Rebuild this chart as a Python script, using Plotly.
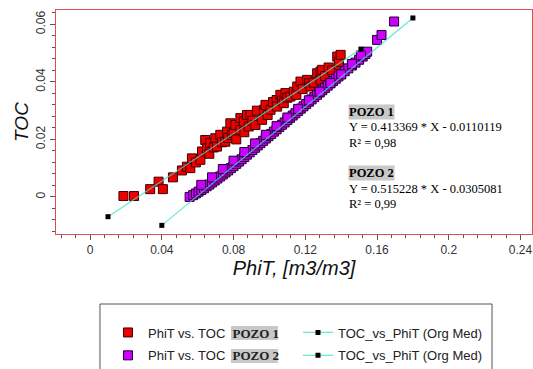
import plotly.graph_objects as go

# --- POZO 1: PhiT vs. TOC samples ---
pozo1_phit = [0.0186, 0.0245, 0.0335, 0.0382, 0.0406, 0.0462, 0.0512, 0.0540, 0.0559, 0.0568,
              0.0590, 0.0615, 0.0624, 0.0642, 0.0652, 0.0665, 0.0670, 0.0690, 0.0698, 0.0708,
              0.0726, 0.0735, 0.0754, 0.0764, 0.0770, 0.0782, 0.0790, 0.0800, 0.0810, 0.0815,
              0.0838, 0.0838, 0.0857, 0.0860, 0.0875, 0.0885, 0.0894, 0.0905, 0.0922, 0.0930,
              0.0959, 0.0970, 0.0978, 0.0990, 0.1006, 0.1020, 0.1040, 0.1043, 0.1061, 0.1070,
              0.1080, 0.1089, 0.1100, 0.1117, 0.1136, 0.1150, 0.1155, 0.1173, 0.1185, 0.1210,
              0.1220, 0.1229, 0.1246, 0.1266, 0.1285, 0.1285, 0.1294, 0.1310, 0.1330, 0.1350,
              0.1378, 0.1387, 0.1387, 0.1397]
pozo1_toc = [0.0003, 0.0003, 0.0027, 0.0053, 0.0027, 0.0068, 0.0092, 0.0105, 0.0100, 0.0134,
             0.0120, 0.0129, 0.0158, 0.0198, 0.0169, 0.0150, 0.0187, 0.0172, 0.0204, 0.0175,
             0.0216, 0.0190, 0.0192, 0.0227, 0.0205, 0.0256, 0.0215, 0.0222, 0.0250, 0.0200,
             0.0233, 0.0274, 0.0262, 0.0225, 0.0285, 0.0245, 0.0285, 0.0265, 0.0250, 0.0300,
             0.0268, 0.0303, 0.0320, 0.0285, 0.0303, 0.0330, 0.0337, 0.0314, 0.0355, 0.0335,
             0.0326, 0.0361, 0.0345, 0.0349, 0.0366, 0.0355, 0.0384, 0.0401, 0.0375, 0.0407,
             0.0395, 0.0384, 0.0397, 0.0430, 0.0407, 0.0436, 0.0442, 0.0420, 0.0450, 0.0440,
             0.0488, 0.0459, 0.0470, 0.0494]

# --- POZO 2: PhiT vs. TOC samples ---
pozo2_phit = [0.0555, 0.0575, 0.0590, 0.0605, 0.0620, 0.0635, 0.0650, 0.0665, 0.0680, 0.0695,
              0.0710, 0.0725, 0.0740, 0.0755, 0.0770, 0.0785, 0.0800, 0.0815, 0.0830, 0.0845,
              0.0860, 0.0875, 0.0890, 0.0905, 0.0920, 0.0935, 0.0950, 0.0965, 0.0980, 0.0995,
              0.1010, 0.1025, 0.1040, 0.1055, 0.1070, 0.1085, 0.1100, 0.1115, 0.1130, 0.1145,
              0.1160, 0.1175, 0.1190, 0.1205, 0.1220, 0.1235, 0.1250, 0.1265, 0.1280, 0.1295,
              0.1310, 0.1325, 0.1340, 0.1355, 0.1370, 0.1385, 0.1400, 0.1420, 0.1440, 0.1460,
              0.1480, 0.1500, 0.1520, 0.1535, 0.1545, 0.1600, 0.1625, 0.1695,
              0.0620, 0.0680, 0.0740, 0.0800, 0.0860, 0.0920, 0.0980, 0.1040, 0.1100, 0.1160,
              0.1220, 0.1280, 0.1340, 0.1400, 0.1460, 0.1510]
pozo2_toc = [0.0000, 0.0006, 0.0012, 0.0018, 0.0024, 0.0030, 0.0037, 0.0043, 0.0050, 0.0057,
             0.0064, 0.0071, 0.0078, 0.0085, 0.0092, 0.0100, 0.0107, 0.0115, 0.0123, 0.0131,
             0.0139, 0.0147, 0.0155, 0.0163, 0.0171, 0.0179, 0.0187, 0.0195, 0.0203, 0.0211,
             0.0219, 0.0227, 0.0235, 0.0243, 0.0251, 0.0259, 0.0267, 0.0275, 0.0283, 0.0291,
             0.0299, 0.0307, 0.0315, 0.0323, 0.0331, 0.0339, 0.0347, 0.0355, 0.0363, 0.0371,
             0.0379, 0.0387, 0.0395, 0.0403, 0.0411, 0.0419, 0.0427, 0.0437, 0.0447, 0.0457,
             0.0467, 0.0477, 0.0488, 0.0497, 0.0505, 0.0546, 0.0563, 0.0610,
             0.0042, 0.0068, 0.0097, 0.0126, 0.0156, 0.0186, 0.0216, 0.0246, 0.0276, 0.0306,
             0.0336, 0.0366, 0.0396, 0.0426, 0.0462, 0.0492]

# --- Linear fits (Org Med) ---
fit1_slope, fit1_intercept = 0.413369, -0.0110119
fit2_slope, fit2_intercept = 0.515228, -0.0305081
fit1_phit = [0.010, 0.151]
fit2_phit = [0.040, 0.180]
fit1_toc = [fit1_slope * x + fit1_intercept for x in fit1_phit]
fit2_toc = [fit2_slope * x + fit2_intercept for x in fit2_phit]

x_ticks = [0, 0.04, 0.08, 0.12, 0.16, 0.2, 0.24]
y_ticks = [0, 0.02, 0.04, 0.06]

SANS = "Liberation Sans, Arial, sans-serif"
SERIF = "Liberation Serif, Times New Roman, serif"
LINE_COLOR = "rgba(64,224,200,0.8)"


def pozo_label(n):
    return ("PhiT vs. TOC  <span style='font-family:Liberation Serif;font-weight:bold'>"
            f"POZO {n}</span>")


fig = go.Figure()

fig.add_trace(go.Scatter(
    x=pozo1_phit, y=pozo1_toc, mode="markers", name=pozo_label(1), legend="legend",
    legendgroup="a",
    marker=dict(symbol="square", size=9, color="#ee0000", line=dict(color="#400000", width=1)),
))
fig.add_trace(go.Scatter(
    x=pozo2_phit, y=pozo2_toc, mode="markers", name=pozo_label(2), legend="legend",
    legendgroup="b",
    marker=dict(symbol="square", size=9, color="#cc00ff", line=dict(color="#200030", width=1)),
))
fig.add_trace(go.Scatter(
    x=fit1_phit, y=fit1_toc, mode="lines+markers", name="TOC_vs_PhiT (Org Med)",
    legend="legend2", legendgroup="c",
    line=dict(color=LINE_COLOR, width=1.2),
    marker=dict(symbol="square", size=5, color="black"),
))
fig.add_trace(go.Scatter(
    x=fit2_phit, y=fit2_toc, mode="lines+markers", name="TOC_vs_PhiT (Org Med)",
    legend="legend2", legendgroup="d",
    line=dict(color=LINE_COLOR, width=1.2),
    marker=dict(symbol="square", size=5, color="black"),
))

# Equation block inside the plot
eq_lines = [
    ("<b>POZO 1</b>", 0.0296, True),
    (f"Y = {fit1_slope} * X - {abs(fit1_intercept)}", 0.0243, False),
    ("R² = 0,98", 0.0188, False),
    ("<b>POZO 2</b>", 0.0083, True),
    (f"Y = {fit2_slope} * X - {abs(fit2_intercept)}", 0.0028, False),
    ("R² = 0,99", -0.0024, False),
]
annotations = []
for text, yv, boxed in eq_lines:
    annotations.append(dict(
        x=0.1436, y=yv, xref="x", yref="y", text=text, showarrow=False,
        xanchor="left", yanchor="middle",
        font=dict(family=SERIF, size=12.5, color="black"),
        bgcolor="#c8c8c8" if boxed else None, borderpad=0,
    ))

shapes = [
    # legend frame
    dict(type="rect", xref="paper", yref="paper", x0=0.0924, x1=0.916, y0=-0.3125, y1=-0.70,
         line=dict(color="#555555", width=1), fillcolor="rgba(0,0,0,0)", layer="above"),
    # grey highlight behind the well names in the legend
    dict(type="rect", xref="paper", yref="paper", x0=0.3676, x1=0.4664, y0=-0.4107, y1=-0.473,
         line=dict(width=0), fillcolor="#c8c8c8", layer="above"),
    dict(type="rect", xref="paper", yref="paper", x0=0.3676, x1=0.4664, y0=-0.5134, y1=-0.5759,
         line=dict(width=0), fillcolor="#c8c8c8", layer="above"),
]

axis_common = dict(
    showline=True, linecolor="#e05050", linewidth=1, mirror=True,
    ticks="outside", ticklen=5, tickcolor="#555555", tickwidth=1,
    showgrid=False, zeroline=False,
    tickfont=dict(family=SANS, size=12, color="#333333"),
)

legend_common = dict(
    xanchor="left", yanchor="top", orientation="v",
    bgcolor="rgba(0,0,0,0)", borderwidth=0, tracegroupgap=3,
    font=dict(family=SANS, size=13, color="#222222"),
)

fig.update_layout(
    width=533, height=369,
    margin=dict(l=56, r=1, t=10, b=135, autoexpand=False),
    paper_bgcolor="white", plot_bgcolor="white",
    font=dict(family=SANS, color="#222222"),
    xaxis=dict(
        range=[-0.019, 0.2464], tickmode="array", tickvals=x_ticks,
        ticktext=[f"{v:g}" for v in x_ticks],
        minor=dict(dtick=0.008, tick0=0, ticks="outside", ticklen=3, tickcolor="#555555"),
        title=dict(text="<i>PhiT, [m3/m3]</i>", font=dict(family=SANS, size=20, color="#111111"),
                   standoff=4),
        **axis_common,
    ),
    yaxis=dict(
        range=[-0.0129, 0.065], tickmode="array", tickvals=y_ticks,
        ticktext=[f"{v:g}" for v in y_ticks], tickangle=-90,
        minor=dict(dtick=0.004, tick0=0, ticks="outside", ticklen=3, tickcolor="#555555"),
        title=dict(text="<i>TOC</i>", font=dict(family=SANS, size=19, color="#111111"),
                   standoff=0),
        **axis_common,
    ),
    legend=dict(x=0.1092, y=-0.3728, **legend_common),
    legend2=dict(x=0.5084, y=-0.3728, **legend_common),
    annotations=annotations,
    shapes=shapes,
)

fig.write_html("out.html")
